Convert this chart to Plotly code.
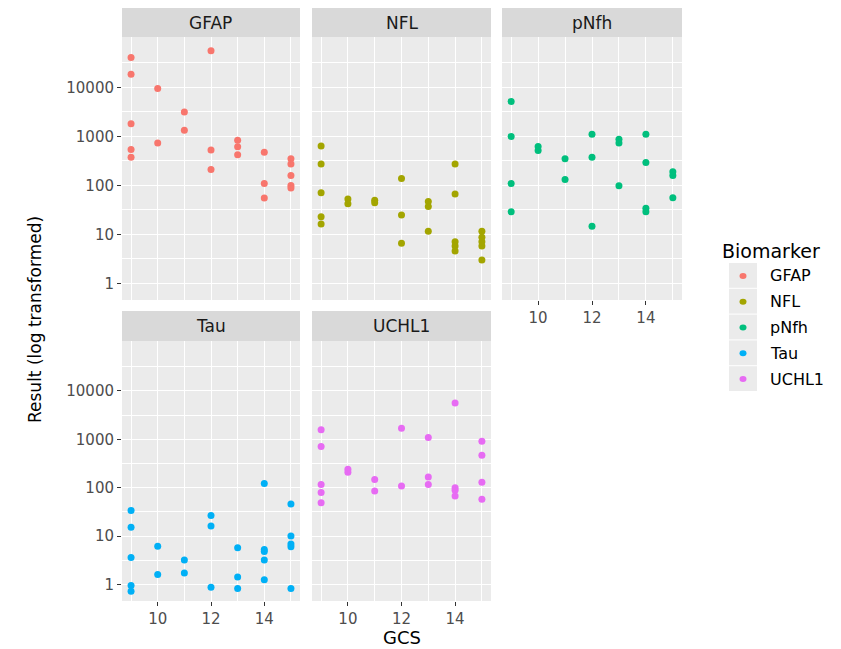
import plotly.graph_objects as go

# ---------------- data ----------------
biomarkers = ["GFAP", "NFL", "pNfh", "Tau", "UCHL1"]
colors = ["#F8766D", "#A3A500", "#00BF7D", "#00B0F6", "#E76BF3"]

gfap_gcs = [9, 9, 9, 9, 9, 10, 10, 11, 11, 12, 12, 12, 13, 13, 13, 14, 14, 14, 15, 15, 15, 15, 15]
gfap_val = [41000, 18700, 1810, 540, 377, 9500, 730, 3150, 1340, 56000, 530, 210,
            840, 615, 420, 475, 109, 55, 350, 275, 159, 100, 88]

nfl_gcs = [9, 9, 9, 9, 9, 10, 10, 11, 11, 12, 12, 12, 13, 13, 13, 14, 14, 14, 14, 14, 15, 15, 15, 15, 15]
nfl_val = [640, 275, 71, 23, 16.3, 53, 42, 50, 44, 138, 25, 6.6, 47, 37, 11.6,
           275, 67, 7.1, 5.8, 4.6, 11.6, 8.7, 7.1, 5.8, 3.0]

pnfh_gcs = [9, 9, 9, 9, 10, 10, 11, 11, 12, 12, 12, 13, 13, 13, 14, 14, 14, 14, 15, 15, 15]
pnfh_val = [5170, 1000, 109, 28.8, 620, 515, 350, 132, 1110, 377, 14.6, 875, 730, 98,
            1110, 293, 34, 29, 191, 159, 56]

tau_gcs = [9, 9, 9, 9, 9, 10, 10, 11, 11, 12, 12, 12, 13, 13, 13, 14, 14, 14, 14, 14, 15, 15, 15, 15, 15]
tau_val = [34, 15.2, 3.6, 0.95, 0.73, 6.2, 1.62, 3.2, 1.73, 26.8, 16.2, 0.88, 5.75, 1.43, 0.83,
           122, 5.3, 4.8, 3.2, 1.26, 46, 10, 6.9, 6.0, 0.83]

uchl1_gcs = [9, 9, 9, 9, 9, 10, 10, 11, 11, 12, 12, 13, 13, 13, 14, 14, 14, 14, 15, 15, 15, 15]
uchl1_val = [1580, 710, 116, 80, 49, 241, 208, 147, 85, 1690, 109, 1090, 166, 116,
             5600, 100, 89, 67, 910, 467, 129, 58]

x_tick_vals = [10, 12, 14]
x_minor_vals = [9, 11, 13, 15]
y_tick_vals = [1, 10, 100, 1000, 10000]
y_tick_text = ["1", "10", "100", "1000", "10000"]
y_minor_vals = [0.3162, 3.162, 31.62, 316.2, 3162, 31623]

series_gcs = [gfap_gcs, nfl_gcs, pnfh_gcs, tau_gcs, uchl1_gcs]
series_val = [gfap_val, nfl_val, pnfh_val, tau_val, uchl1_val]

# ---------------- layout geometry (pixels) ----------------
W, H = 841, 649
cols_px = [(122, 300), (312, 491), (502, 682)]
rows_px = [(37, 300), (341, 601)]
strips_px = [(8, 37), (311, 341)]
panel_pos = [(0, 0), (0, 1), (0, 2), (1, 0), (1, 1)]  # (row, col)

FONT = "DejaVu Sans"
fig = go.Figure()

shapes = []
annotations = []
layout_axes = {}

for i, (name, col, gx, gv) in enumerate(zip(biomarkers, colors, series_gcs, series_val)):
    r, c = panel_pos[i]
    n = i + 1
    xa = "x" if n == 1 else f"x{n}"
    ya = "y" if n == 1 else f"y{n}"
    fig.add_trace(go.Scatter(
        x=gx, y=gv, mode="markers", xaxis=xa, yaxis=ya, name=name,
        marker=dict(color=col, size=7, line=dict(width=0)), showlegend=False))

    x0, x1 = cols_px[c]
    y0, y1 = rows_px[r]
    xdom = [x0 / W, x1 / W]
    ydom = [1 - y1 / H, 1 - y0 / H]

    bottom = (r == 1) or (c == 2)
    left = (c == 0)

    layout_axes["xaxis" if n == 1 else f"xaxis{n}"] = dict(
        domain=xdom, anchor=ya, range=[8.66, 15.34],
        tickvals=x_tick_vals, showticklabels=bottom,
        ticks="outside" if bottom else "", ticklen=4, tickwidth=1.1, tickcolor="#333333",
        tickfont=dict(family=FONT, size=15, color="#4D4D4D"),
        showgrid=True, gridcolor="white", gridwidth=1.4, zeroline=False, showline=False,
        minor=dict(tickvals=x_minor_vals, showgrid=True, gridcolor="white", gridwidth=0.7, ticks=""),
    )
    layout_axes["yaxis" if n == 1 else f"yaxis{n}"] = dict(
        domain=ydom, anchor=xa, type="log", range=[-0.34, 5.03],
        tickvals=y_tick_vals, ticktext=y_tick_text, showticklabels=left,
        ticks="outside" if left else "", ticklen=4, tickwidth=1.1, tickcolor="#333333",
        tickfont=dict(family=FONT, size=15, color="#4D4D4D"),
        showgrid=True, gridcolor="white", gridwidth=1.4, zeroline=False, showline=False,
        minor=dict(tickvals=y_minor_vals, showgrid=True, gridcolor="white", gridwidth=0.7, ticks=""),
    )

    # strip
    s0, s1 = strips_px[r]
    shapes.append(dict(type="rect", xref="paper", yref="paper",
                       x0=x0 / W, x1=x1 / W, y0=1 - s1 / H, y1=1 - s0 / H,
                       fillcolor="#D9D9D9", line=dict(width=0), layer="below"))
    annotations.append(dict(text=name, xref="paper", yref="paper",
                            x=(x0 + x1) / 2 / W, y=1 - (s0 + s1) / 2 / H,
                            xanchor="center", yanchor="middle", showarrow=False,
                            font=dict(family=FONT, size=17, color="#1A1A1A")))

# axis titles
annotations.append(dict(text="GCS", xref="paper", yref="paper",
                        x=(122 + 682) / 2 / W, y=0, xanchor="center", yanchor="bottom",
                        borderpad=0,
                        showarrow=False, font=dict(family=FONT, size=18, color="black")))
annotations.append(dict(text="Result (log transformed)", xref="paper", yref="paper",
                        x=35 / W, y=1 - 320 / H, xanchor="center", yanchor="middle", textangle=-90,
                        showarrow=False, font=dict(family=FONT, size=17, color="black")))

# legend (manual, ggplot style)
annotations.append(dict(text="Biomarker", xref="paper", yref="paper",
                        x=720 / W, y=1 - 251 / H, xanchor="left", yanchor="middle",
                        showarrow=False, font=dict(family=FONT, size=19, color="black")))
key_top, key_h = 263, 25.8
for k, (name, col) in enumerate(zip(biomarkers, colors)):
    ty = key_top + k * key_h
    shapes.append(dict(type="rect", xref="paper", yref="paper",
                       x0=729 / W, x1=757 / W, y0=1 - (ty + key_h - 1) / H, y1=1 - ty / H,
                       fillcolor="#EBEBEB", line=dict(width=0)))
    cy = ty + key_h / 2
    shapes.append(dict(type="circle", xref="paper", yref="paper",
                       x0=(743 - 3.5) / W, x1=(743 + 3.5) / W, y0=1 - (cy + 3) / H, y1=1 - (cy - 3) / H,
                       fillcolor=col, line=dict(width=0)))
    annotations.append(dict(text=name, xref="paper", yref="paper",
                            x=768 / W, y=1 - cy / H, xanchor="left", yanchor="middle",
                            showarrow=False, font=dict(family=FONT, size=16, color="black")))

fig.update_layout(
    width=W, height=H, margin=dict(l=0, r=0, t=0, b=0),
    paper_bgcolor="white", plot_bgcolor="#EBEBEB",
    shapes=shapes, annotations=annotations, showlegend=False,
    **layout_axes,
)

fig.write_html("out.html",
               config={"displayModeBar": False},
               post_script="document.body.style.margin='0';document.body.style.padding='0';"
                           "document.body.style.overflow='hidden';")
